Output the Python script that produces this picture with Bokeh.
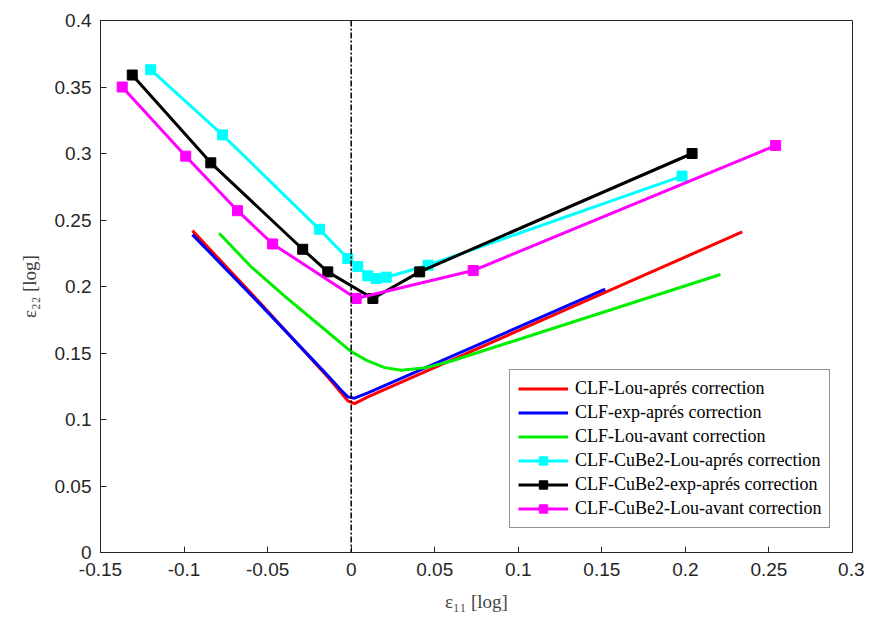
from bokeh.plotting import figure
from bokeh.models import Range1d, FixedTicker, Span, Legend
from bokeh.embed import file_html
from bokeh.resources import INLINE

# ---- data ----
red_x = [-0.095, -0.054, -0.014, -0.006, -0.002, 0.002, 0.010, 0.234]
red_y = [0.242, 0.187, 0.132, 0.120, 0.114, 0.112, 0.117, 0.241]

blue_x = [-0.095, -0.054, -0.014, -0.006, -0.002, 0.002, 0.010, 0.152]
blue_y = [0.239, 0.186, 0.133, 0.122, 0.117, 0.116, 0.120, 0.198]

green_x = [-0.079, -0.060, -0.040, -0.020, 0.000, 0.010, 0.020, 0.030, 0.045, 0.060, 0.221]
green_y = [0.240, 0.215, 0.193, 0.172, 0.151, 0.144, 0.139, 0.137, 0.139, 0.144, 0.209]

cyan_x = [-0.120, -0.077, -0.019, -0.002, 0.004, 0.010, 0.015, 0.021, 0.046, 0.198]
cyan_y = [0.363, 0.314, 0.243, 0.221, 0.215, 0.208, 0.206, 0.207, 0.216, 0.283]

black_x = [-0.131, -0.084, -0.029, -0.014, 0.013, 0.041, 0.204]
black_y = [0.359, 0.293, 0.228, 0.211, 0.191, 0.211, 0.300]

pink_x = [-0.137, -0.099, -0.068, -0.047, 0.003, 0.073, 0.254]
pink_y = [0.350, 0.298, 0.257, 0.232, 0.191, 0.212, 0.306]

x_ticks = [-0.15, -0.1, -0.05, 0, 0.05, 0.1, 0.15, 0.2, 0.25, 0.3]
x_tick_labels = ["-0.15", "-0.1", "-0.05", "0", "0.05", "0.1", "0.15", "0.2", "0.25", "0.3"]
y_ticks = [0, 0.05, 0.1, 0.15, 0.2, 0.25, 0.3, 0.35, 0.4]
y_tick_labels = ["0", "0.05", "0.1", "0.15", "0.2", "0.25", "0.3", "0.35", "0.4"]

labels = [
    "CLF-Lou-aprés correction",
    "CLF-exp-aprés correction",
    "CLF-Lou-avant correction",
    "CLF-CuBe2-Lou-aprés correction",
    "CLF-CuBe2-exp-aprés correction",
    "CLF-CuBe2-Lou-avant correction",
]

# ---- figure ----
p = figure(output_backend="svg", toolbar_location=None,
           frame_width=752, frame_height=532,
           x_range=Range1d(-0.15, 0.3), y_range=Range1d(0, 0.4))
p.min_border_left = 100
p.min_border_top = 20
p.min_border_right = 12
p.min_border_bottom = 56
p.background_fill_color = "white"
p.border_fill_color = "white"
p.outline_line_color = "#262626"
p.outline_line_width = 1
p.xgrid.visible = False
p.ygrid.visible = False

tick_font = "Liberation Sans"
for ax, ticks, labs in ((p.xaxis[0], x_ticks, x_tick_labels), (p.yaxis[0], y_ticks, y_tick_labels)):
    ax.ticker = FixedTicker(ticks=ticks)
    ax.major_label_overrides = {t: l for t, l in zip(ticks, labs)}
    ax.major_tick_in = 6
    ax.major_tick_out = 0
    ax.minor_tick_in = 0
    ax.minor_tick_out = 0
    ax.axis_line_color = "#262626"
    ax.major_tick_line_color = "#262626"
    ax.major_label_text_font = tick_font
    ax.major_label_text_font_size = "19px"
    ax.major_label_text_color = "#262626"
    ax.axis_label_text_font = "Liberation Serif"
    ax.axis_label_text_font_style = "normal"
    ax.axis_label_text_font_size = "19px"
    ax.axis_label_text_color = "#444444"

p.xaxis.major_label_standoff = 10
p.yaxis.major_label_standoff = 9
p.xaxis.axis_label = "ε₁₁ [log]"
p.yaxis.axis_label = "ε₂₂ [log]"
p.xaxis.axis_label_standoff = 12
p.yaxis.axis_label_standoff = 12

# vertical dash-dot line at x = 0
p.add_layout(Span(location=0, dimension="height", line_color="black",
                  line_width=1.5, line_dash="6 2 2 2"))

r1 = p.line(red_x, red_y, line_color="#FF0000", line_width=3)
r2 = p.line(blue_x, blue_y, line_color="#0000FF", line_width=3)
r3 = p.line(green_x, green_y, line_color="#00EE00", line_width=3)
r4a = p.line(cyan_x, cyan_y, line_color="#00FFFF", line_width=3)
r4b = p.scatter(cyan_x, cyan_y, marker="square", size=10, fill_color="#00FFFF", line_color="#00FFFF")
r5a = p.line(black_x, black_y, line_color="black", line_width=3)
r5b = p.scatter(black_x, black_y, marker="square", size=10, fill_color="black", line_color="black")
r6a = p.line(pink_x, pink_y, line_color="#FF00FF", line_width=3)
r6b = p.scatter(pink_x, pink_y, marker="square", size=10, fill_color="#FF00FF", line_color="#FF00FF")

legend = Legend(items=[
    (labels[0], [r1]),
    (labels[1], [r2]),
    (labels[2], [r3]),
    (labels[3], [r4a, r4b]),
    (labels[4], [r5a, r5b]),
    (labels[5], [r6a, r6b]),
], location=(409, 24))
legend.label_text_font = "Liberation Serif"
legend.label_text_font_size = "18px"
legend.label_text_color = "black"
legend.glyph_width = 50
legend.glyph_height = 21
legend.label_height = 21
legend.spacing = 3
legend.padding = 8
legend.margin = 0
legend.label_standoff = 7
legend.border_line_color = "#262626"
legend.border_line_width = 1
legend.background_fill_alpha = 1
p.add_layout(legend, "center")

open("out.html", "w").write(file_html(p, INLINE))
